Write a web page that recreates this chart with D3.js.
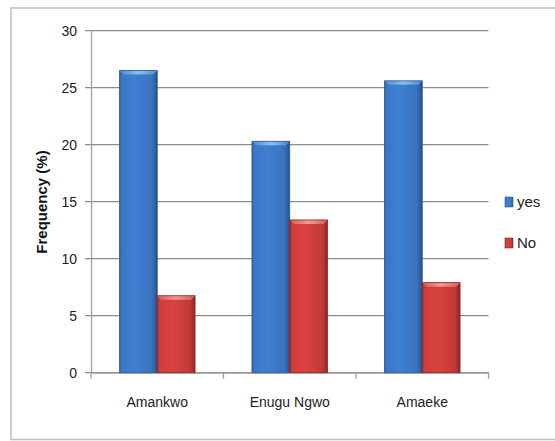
<!DOCTYPE html>
<html>
<head>
<meta charset="utf-8">
<script src="https://cdn.jsdelivr.net/npm/d3@7"></script>
<style>
  html, body { margin: 0; padding: 0; background: #fff; }
  svg text { font-family: "Liberation Sans Narrow", "Liberation Sans", Arial, sans-serif; }
</style>
</head>
<body>
<svg id="chart" width="555" height="441"></svg>
<script>
const categories = ["Amankwo", "Enugu Ngwo", "Amaeke"];
const seriesNames = ["yes", "No"];
const yesValues = [26.5, 20.3, 25.6];
const noValues = [6.75, 13.4, 7.9];
const yTicks = [0, 5, 10, 15, 20, 25, 30];

const svg = d3.select("#chart");
const margin = { left: 91, right: 488.5, top: 30.7, bottom: 372.7 };

// outer chart frame
svg.append("rect")
  .attr("x", 11).attr("y", 8).attr("width", 560).attr("height", 431.5)
  .attr("fill", "none").attr("stroke", "#bdbdbd").attr("stroke-width", 1.5);

const x0 = d3.scaleBand().domain(categories).range([margin.left, margin.right]).paddingInner(0).paddingOuter(0);
const x1 = d3.scaleBand().domain(seriesNames).range([0, x0.bandwidth()]).paddingInner(0).paddingOuter(0.753);
const y = d3.scaleLinear().domain([0, 30]).range([margin.bottom, margin.top]);

const defs = svg.append("defs");
function makeGrad(id, stops) {
  const g = defs.append("linearGradient").attr("id", id).attr("x1", "0").attr("x2", "1").attr("y1", "0").attr("y2", "0");
  stops.forEach(s => g.append("stop").attr("offset", s[0]).attr("stop-color", s[1]));
}
makeGrad("gYes", [[0, "#2a5f9e"], [0.06, "#3a78c6"], [0.4, "#3f80d2"], [0.85, "#3a73bd"], [0.95, "#2f5f9e"], [1, "#244a7e"]]);
makeGrad("gNo", [[0, "#9e2a2a"], [0.06, "#cf3c3a"], [0.4, "#d8433f"], [0.85, "#c43a36"], [0.95, "#a52e2c"], [1, "#7a1f1f"]]);
makeGrad("gYesTop", [[0, "#4d8ad6"], [0.5, "#8ebcf0"], [1, "#4d8ad6"]]);
makeGrad("gNoTop", [[0, "#d85a55"], [0.5, "#f09a92"], [1, "#d85a55"]]);

// gridlines
svg.append("g").selectAll("line").data(yTicks).join("line")
  .attr("x1", margin.left - 6).attr("x2", margin.right)
  .attr("y1", d => y(d)).attr("y2", d => y(d))
  .attr("stroke", "#8c8c8c").attr("stroke-width", 1.3);

// y axis
const yAxis = d3.axisLeft(y).tickValues(yTicks).tickSize(0).tickPadding(14);
const yg = svg.append("g").attr("transform", `translate(${margin.left},0)`).call(yAxis);
yg.select(".domain").attr("stroke", "#a0a0a0").attr("stroke-width", 1.3);
yg.selectAll("text").attr("font-size", 14).attr("fill", "#222");

// x axis
const xAxis = d3.axisBottom(x0).tickSize(0).tickPadding(24);
const xg = svg.append("g").attr("transform", `translate(0,${margin.bottom})`).call(xAxis);
xg.select(".domain").attr("stroke", "#a0a0a0").attr("stroke-width", 1.3);
xg.selectAll("text").attr("font-size", 14).attr("fill", "#222");
// category boundary ticks
const boundaries = categories.map(c => x0(c)).concat([margin.right]);
svg.append("g").selectAll("line").data(boundaries).join("line")
  .attr("x1", d => d).attr("x2", d => d)
  .attr("y1", margin.bottom).attr("y2", margin.bottom + 6)
  .attr("stroke", "#a0a0a0").attr("stroke-width", 1.3);

// bars
const rows = categories.map((c, i) => ({ cat: c, vals: [yesValues[i], noValues[i]] }));
const groups = svg.append("g").selectAll("g").data(rows).join("g")
  .attr("transform", d => `translate(${x0(d.cat)},0)`);
groups.each(function(d) {
  const g = d3.select(this);
  d.vals.forEach((v, j) => {
    const name = seriesNames[j];
    const bx = x1(name), bw = x1.bandwidth();
    const top = y(v), h = y(0) - y(v);
    const isYes = j === 0;
    g.append("rect").attr("x", bx).attr("y", top).attr("width", bw).attr("height", h)
      .attr("fill", isYes ? "url(#gYes)" : "url(#gNo)");
    // bevelled top edge
    const bev = 4;
    g.append("path")
      .attr("d", `M${bx},${top}L${bx + bw},${top}L${bx + bw - bev},${top + bev}L${bx + bev},${top + bev}Z`)
      .attr("fill", isYes ? "url(#gYesTop)" : "url(#gNoTop)");
    g.append("rect").attr("x", bx).attr("y", top).attr("width", bw).attr("height", h)
      .attr("fill", "none").attr("stroke", isYes ? "#2d5a92" : "#8f2a28").attr("stroke-width", 0.8);
  });
});

// y axis title
svg.append("text")
  .attr("transform", "translate(47,202) rotate(-90)")
  .attr("text-anchor", "middle")
  .attr("font-size", 15).attr("font-weight", "bold").attr("fill", "#111")
  .text("Frequency (%)");

// legend
const legend = svg.append("g").selectAll("g").data(seriesNames).join("g")
  .attr("transform", (d, i) => `translate(505,${197 + i * 41})`);
legend.append("rect").attr("width", 8).attr("height", 10)
  .attr("fill", (d, i) => i === 0 ? "url(#gYes)" : "url(#gNo)")
  .attr("stroke", (d, i) => i === 0 ? "#2d5a92" : "#8f2a28").attr("stroke-width", 0.6);
legend.append("text").attr("x", 12).attr("y", 10).attr("font-size", 15).attr("fill", "#222")
  .text(d => d);
</script>
</body>
</html>
